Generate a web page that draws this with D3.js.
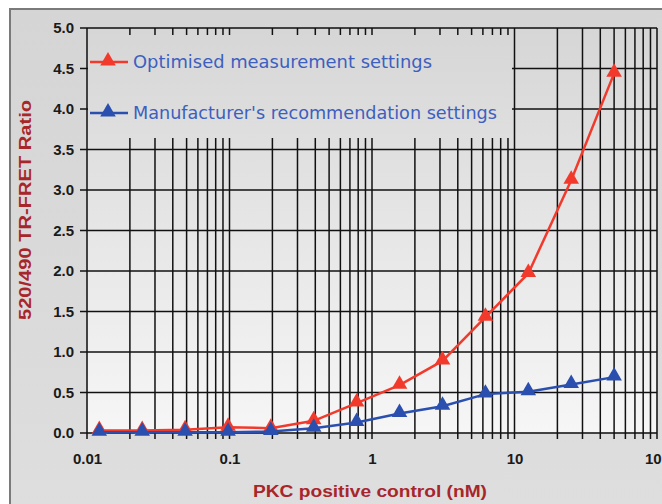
<!DOCTYPE html>
<html>
<head>
<meta charset="utf-8">
<script src="https://cdn.jsdelivr.net/npm/d3@7"></script>
<style>
  body { margin: 0; background: #fff; }
  svg { display: block; }
</style>
</head>
<body>
<div id="chart"></div>
<script>
// PKC positive control, 2-fold dilutions from 50 nM
var concentrations = [0.0122, 0.0244, 0.0488, 0.0977, 0.195, 0.39, 0.78, 1.56, 3.125, 6.25, 12.5, 25, 50];
var optimised = [0.03, 0.03, 0.04, 0.07, 0.06, 0.15, 0.37, 0.59, 0.89, 1.43, 1.97, 3.12, 4.44];
var manufacturer = [0.01, 0.01, 0.01, 0.01, 0.02, 0.06, 0.13, 0.24, 0.33, 0.48, 0.51, 0.6, 0.69];
var seriesNames = ["Optimised measurement settings", "Manufacturer's recommendation settings"];
var yTicks = [0, 0.5, 1, 1.5, 2, 2.5, 3, 3.5, 4, 4.5, 5];
var xTicks = [0.01, 0.1, 1, 10, 100];

var width = 662, height = 504;
var margin = {top: 28, right: 5, bottom: 71, left: 87};
var red = "#f23a2c", blue = "#2b4fae";

var svg = d3.select('#chart')
  .append('svg')
  .attr('width', width)
  .attr('height', height);

var defs = svg.append('defs');
var bgGrad = defs.append('linearGradient')
  .attr('id', 'bg').attr('x1', 0).attr('y1', 0).attr('x2', 0).attr('y2', 1);
bgGrad.append('stop').attr('offset', '0%').attr('stop-color', '#d5d5d5');
bgGrad.append('stop').attr('offset', '100%').attr('stop-color', '#dedede');

var plotGrad = defs.append('linearGradient')
  .attr('id', 'plotbg').attr('gradientUnits', 'userSpaceOnUse')
  .attr('x1', 0).attr('y1', margin.top).attr('x2', 0).attr('y2', height - margin.bottom);
plotGrad.append('stop').attr('offset', '0%').attr('stop-color', '#d6d6d6');
plotGrad.append('stop').attr('offset', '100%').attr('stop-color', '#f6f6f6');

// outer frame
svg.append('rect')
  .attr('x', 10).attr('y', 9)
  .attr('width', width).attr('height', height)
  .attr('fill', 'url(#bg)')
  .attr('stroke', '#7a7a7a')
  .attr('stroke-width', 2);

var x = d3.scaleLog()
  .domain([0.01, 100])
  .range([margin.left, width - margin.right]);
var y = d3.scaleLinear()
  .domain([0, 5])
  .range([height - margin.bottom, margin.top]);

// plot area
svg.append('rect')
  .attr('x', x(0.01)).attr('y', y(5))
  .attr('width', x(100) - x(0.01)).attr('height', y(0) - y(5))
  .attr('fill', 'url(#plotbg)')
  .attr('stroke', '#c8c8c8');

// grid
var minor = [];
[0.01, 0.1, 1, 10].forEach(function(d) {
  for (var k = 1; k < 10; k++) minor.push(d * k);
});
minor.push(100);

var grid = svg.append('g').attr('stroke', '#111').attr('stroke-width', 1.5);
grid.selectAll('line.v')
  .data(minor)
  .enter().append('line')
  .attr('class', 'v')
  .attr('x1', function(d) { return x(d); })
  .attr('x2', function(d) { return x(d); })
  .attr('y1', y(5))
  .attr('y2', y(0) + 6);
grid.selectAll('line.h')
  .data(yTicks)
  .enter().append('line')
  .attr('class', 'h')
  .attr('x1', x(0.01) - 7)
  .attr('x2', x(100))
  .attr('y1', function(d) { return y(d); })
  .attr('y2', function(d) { return y(d); });

// axes labels
var axisY = d3.axisLeft(y).tickValues(yTicks).tickFormat(d3.format('.1f')).tickSize(0).tickPadding(13);
var axisYG = svg.append('g')
  .attr('transform', 'translate(' + margin.left + ',0)')
  .call(axisY);
axisYG.select('.domain').remove();
axisYG.selectAll('text')
  .attr('font-family', 'Liberation Sans, Arial, sans-serif')
  .attr('font-weight', 'bold')
  .attr('font-size', 15)
  .attr('fill', '#1a1a1a');

var axisX = d3.axisBottom(x).tickValues(xTicks).tickFormat(function(d) { return String(d); }).tickSize(0).tickPadding(20);
var axisXG = svg.append('g')
  .attr('transform', 'translate(0,' + y(0) + ')')
  .call(axisX);
axisXG.select('.domain').remove();
axisXG.selectAll('text')
  .attr('font-family', 'Liberation Sans, Arial, sans-serif')
  .attr('font-weight', 'bold')
  .attr('font-size', 15)
  .attr('fill', '#1a1a1a');

// legend box covers the grid
svg.append('rect')
  .attr('x', x(0.01) + 1).attr('y', 35)
  .attr('width', 424).attr('height', 103)
  .attr('fill', 'url(#plotbg)');

// lines
var line = d3.line()
  .x(function(d, i) { return x(concentrations[i]); })
  .y(function(d) { return y(d); });

var tri = d3.symbol().type(d3.symbolTriangle).size(105);

function drawSeries(values, color) {
  var g = svg.append('g');
  g.append('path')
    .datum(values)
    .attr('fill', 'none')
    .attr('stroke', color)
    .attr('stroke-width', 2.5)
    .attr('d', line);
  g.selectAll('path.pt')
    .data(values)
    .enter().append('path')
    .attr('class', 'pt')
    .attr('d', tri)
    .attr('fill', color)
    .attr('transform', function(d, i) {
      return 'translate(' + x(concentrations[i]) + ',' + (y(d) - 1) + ')';
    });
}
drawSeries(optimised, red);
drawSeries(manufacturer, blue);

// legend
var legend = svg.append('g');
var legendItems = [{name: seriesNames[0], color: red, y: 62, w: 299}, {name: seriesNames[1], color: blue, y: 113, w: 364}];
legendItems.forEach(function(d) {
  legend.append('line')
    .attr('x1', 90).attr('x2', 128)
    .attr('y1', d.y).attr('y2', d.y)
    .attr('stroke', d.color).attr('stroke-width', 2.5);
  legend.append('path')
    .attr('d', tri)
    .attr('fill', d.color)
    .attr('transform', 'translate(108,' + (d.y - 1) + ')');
  legend.append('text')
    .attr('x', 133).attr('y', d.y + 6)
    .attr('font-family', 'DejaVu Sans, Verdana, sans-serif')
    .attr('font-size', 17.7)
    .attr('textLength', d.w)
    .attr('lengthAdjust', 'spacingAndGlyphs')
    .attr('fill', '#3c5fc0')
    .text(d.name);
});

// axis titles
svg.append('text')
  .attr('transform', 'translate(31,210) rotate(-90)')
  .attr('text-anchor', 'middle')
  .attr('font-family', 'Liberation Sans, Arial, sans-serif')
  .attr('font-weight', 'bold')
  .attr('font-size', 16)
  .attr('textLength', 220)
  .attr('lengthAdjust', 'spacingAndGlyphs')
  .attr('fill', '#a8262a')
  .text('520/490 TR-FRET Ratio');

svg.append('text')
  .attr('x', 370).attr('y', 497)
  .attr('text-anchor', 'middle')
  .attr('font-family', 'Liberation Sans, Arial, sans-serif')
  .attr('font-weight', 'bold')
  .attr('font-size', 16)
  .attr('textLength', 234)
  .attr('lengthAdjust', 'spacingAndGlyphs')
  .attr('fill', '#a8262a')
  .text('PKC positive control (nM)');
</script>
</body>
</html>
